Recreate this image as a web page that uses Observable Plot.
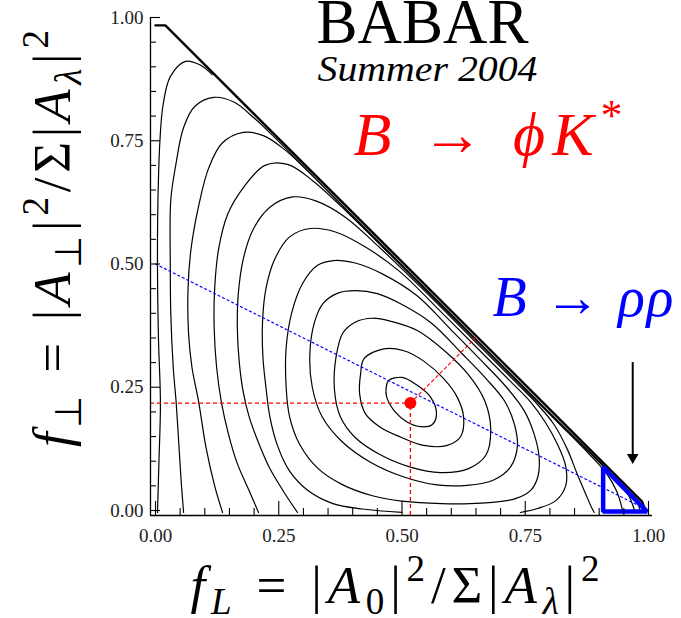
<!DOCTYPE html>
<html><head><meta charset="utf-8">
<script src="https://cdn.jsdelivr.net/npm/d3@7"></script>
<script src="https://cdn.jsdelivr.net/npm/@observablehq/plot@0.6"></script>
<style>html,body{margin:0;padding:0;background:#fff;overflow:hidden;}</style>
</head><body><div id="chart"></div>
<script>
// ---------- data ----------
const phiKstar = {fL: 0.517, fPerp: 0.218};
const xMajorTicks = [0, 0.25, 0.5, 0.75, 1];
const yMajorTicks = [0, 0.25, 0.5, 0.75, 1];
const minorTicks = [0.05,0.1,0.15,0.2,0.3,0.35,0.4,0.45,0.55,0.6,0.65,0.7,0.8,0.85,0.9,0.95];
const tickLabels = ["0.00","0.25","0.50","0.75","1.00"];

// likelihood contours (fL, fPerp), innermost first
const contour1 = [[0.473,0.264],[0.500,0.270],[0.531,0.254],[0.558,0.230],[0.570,0.196],[0.561,0.174],[0.538,0.170],[0.511,0.179],[0.487,0.199],[0.469,0.230],[0.468,0.250]];
const contour2 = [[0.423,0.308],[0.463,0.328],[0.504,0.324],[0.544,0.303],[0.585,0.267],[0.612,0.230],[0.625,0.189],[0.619,0.150],[0.592,0.132],[0.544,0.132],[0.497,0.149],[0.456,0.169],[0.426,0.196],[0.414,0.237],[0.416,0.277]];
const contour3 = [[0.380,0.360],[0.405,0.382],[0.440,0.390],[0.480,0.383],[0.531,0.365],[0.585,0.325],[0.635,0.275],[0.668,0.222],[0.680,0.165],[0.670,0.112],[0.635,0.085],[0.578,0.077],[0.517,0.088],[0.456,0.113],[0.405,0.148],[0.375,0.190],[0.363,0.245],[0.366,0.310]];
const contour4 = [[0.322,0.380],[0.340,0.420],[0.370,0.441],[0.406,0.446],[0.450,0.440],[0.500,0.418],[0.560,0.380],[0.620,0.320],[0.670,0.268],[0.708,0.222],[0.728,0.175],[0.734,0.130],[0.720,0.088],[0.686,0.062],[0.632,0.051],[0.571,0.052],[0.504,0.068],[0.436,0.098],[0.378,0.140],[0.338,0.190],[0.318,0.250],[0.313,0.315]];
const contour5 = [[0.330,0.085],[0.292,0.135],[0.272,0.190],[0.265,0.250],[0.265,0.330],[0.276,0.400],[0.298,0.460],[0.328,0.497],[0.361,0.507],[0.405,0.502],[0.460,0.480],[0.530,0.436],[0.600,0.366],[0.660,0.305],[0.712,0.250],[0.748,0.202],[0.768,0.155],[0.778,0.110],[0.776,0.070],[0.762,0.042],[0.730,0.024],[0.660,0.015],[0.580,0.014],[0.500,0.019],[0.440,0.030],[0.380,0.052]];
const contour6 = [[0.500,-0.004],[0.420,0.003],[0.360,0.014],[0.310,0.040],[0.272,0.080],[0.248,0.130],[0.232,0.190],[0.224,0.250],[0.218,0.310],[0.217,0.380],[0.224,0.450],[0.242,0.510],[0.272,0.555],[0.314,0.572],[0.365,0.565],[0.425,0.535],[0.495,0.485],[0.575,0.407],[0.655,0.327],[0.720,0.262],[0.761,0.220],[0.790,0.180],[0.815,0.135],[0.832,0.090],[0.832,0.050],[0.812,0.020],[0.775,0.004],[0.740,-0.004]];
const contour7 = [[0.288,-0.004],[0.262,0.035],[0.232,0.085],[0.208,0.140],[0.190,0.190],[0.178,0.240],[0.170,0.300],[0.166,0.370],[0.168,0.440],[0.178,0.510],[0.198,0.570],[0.232,0.615],[0.278,0.636],[0.325,0.628],[0.385,0.595],[0.455,0.533],[0.540,0.451],[0.640,0.351],[0.730,0.261],[0.775,0.215],[0.808,0.175],[0.835,0.125],[0.855,0.075],[0.872,0.035],[0.885,0.005],[0.890,-0.004]];
const contour8 = [[0.209,-0.004],[0.190,0.040],[0.166,0.095],[0.148,0.155],[0.134,0.218],[0.124,0.290],[0.119,0.370],[0.120,0.450],[0.128,0.530],[0.146,0.600],[0.179,0.656],[0.222,0.700],[0.268,0.702],[0.320,0.668],[0.390,0.604],[0.480,0.515],[0.600,0.395],[0.720,0.275],[0.820,0.175],[0.880,0.114],[0.915,0.075],[0.935,0.040],[0.945,0.010],[0.948,-0.004]];
const contour9 = [[0.136,-0.004],[0.120,0.050],[0.102,0.130],[0.088,0.218],[0.074,0.290],[0.067,0.360],[0.066,0.450],[0.072,0.530],[0.088,0.620],[0.108,0.695],[0.135,0.745],[0.178,0.767],[0.220,0.760],[0.262,0.732],[0.301,0.696],[0.400,0.597],[0.550,0.447],[0.700,0.297],[0.850,0.147],[0.930,0.067],[0.960,0.030],[0.970,0.005],[0.972,-0.004]];
const contour10 = [[0.057,-0.004],[0.052,0.060],[0.047,0.140],[0.042,0.218],[0.036,0.290],[0.031,0.400],[0.030,0.500],[0.031,0.630],[0.041,0.700],[0.057,0.777],[0.080,0.820],[0.118,0.838],[0.160,0.828],[0.200,0.796],[0.227,0.771],[0.400,0.598],[0.600,0.398],[0.800,0.198],[0.960,0.038],[0.980,0.010],[0.983,-0.004]];
const contour11 = [[0.004,-0.004],[0.007,0.100],[0.010,0.218],[0.006,0.350],[0.004,0.500],[0.005,0.630],[0.009,0.750],[0.015,0.820],[0.030,0.880],[0.061,0.911],[0.090,0.904],[0.115,0.884]];
const physicalBoundary = [[0,0.984],[0.02,0.984],[0.987,0.018],[0.995,-0.003]];

const rhoRhoRegion = [[0.908,-0.002],[0.908,0.088],[0.997,-0.002]];
const rhoRhoLine = [[0,0.5],[0.985,0.0075]];
const rhoRhoArrow = {fL: 0.968, from: 0.300, to: 0.112, tip: 0.108};

// ---------- tables ----------
const closedContours = [contour1, contour2, contour3, contour4, contour5];
const openContours = [contour6, contour7, contour8, contour9, contour10, contour11];
const toRows = list => list.flatMap((c, k) => c.map(([x, y]) => ({x, y, k})));
const closedRows = toRows(closedContours);
const openRows = toRows(openContours);
const pairRows = arr => arr.map(([x, y]) => ({x, y}));
const diag = (() => { const d = (1 - phiKstar.fL - phiKstar.fPerp) / 2;
  return [{x: phiKstar.fL, y: phiKstar.fPerp}, {x: phiKstar.fL + d, y: phiKstar.fPerp + d}]; })();

const PX = 1 / 493;          // one pixel in data units
const AX = -5 * PX;          // axis lines sit 5px outside the 0 value
const RED = "#ff0000", BLUE = "#0000ff";
const SERIF = "'Liberation Serif','Times New Roman',serif";

const yTitle = "f⊥ = |A⊥|2/Σ|Aλ|2";
const xTitle = "fL = |A0|2/Σ|Aλ|2";
const phiTitle = "B → ϕK*";
const rhoTitle = "B → ρρ";

const plot = Plot.plot({
  width: 681, height: 618,
  marginLeft: 155, marginRight: 33, marginTop: 17, marginBottom: 108,
  x: {domain: [0, 1]}, y: {domain: [0, 1]},
  style: {fontFamily: SERIF, fontSize: "19px", background: "#fff", color: "#000"},
  marks: [
    Plot.line(closedRows, {x: "x", y: "y", z: "k", curve: "catmull-rom-closed", stroke: "#000", strokeWidth: 1.2}),
    Plot.line(openRows, {x: "x", y: "y", z: "k", curve: "catmull-rom", stroke: "#000", strokeWidth: 1.2}),
    Plot.line(pairRows(physicalBoundary), {x: "x", y: "y", stroke: "#000", strokeWidth: 2.4}),
    Plot.line(pairRows(rhoRhoLine), {x: "x", y: "y", stroke: BLUE, strokeWidth: 1.2, strokeDasharray: "2,3"}),
    Plot.ruleY([phiKstar], {y: "fPerp", x1: AX, x2: "fL", stroke: RED, strokeWidth: 1.3, strokeDasharray: "4,3"}),
    Plot.ruleX([phiKstar], {x: "fL", y1: AX, y2: "fPerp", stroke: RED, strokeWidth: 1.3, strokeDasharray: "4,3"}),
    Plot.line(diag, {x: "x", y: "y", stroke: RED, strokeWidth: 1.1, strokeDasharray: "3,3"}),
    Plot.dot([phiKstar], {x: "fL", y: "fPerp", r: 6, fill: RED}),
    Plot.line(pairRows(rhoRhoRegion), {x: "x", y: "y", curve: "linear-closed", stroke: BLUE, strokeWidth: 4.5, strokeLinejoin: "miter"}),
    Plot.ruleX([rhoRhoArrow], {x: "fL", y1: "from", y2: "to", stroke: "#000", strokeWidth: 2}),
    Plot.dot([rhoRhoArrow], {x: "fL", y: "tip", symbol: "triangle", rotate: 180, r: 4.3, fill: "#000", stroke: null}),
    // axis lines and ticks
    Plot.ruleX([AX], {y1: AX, y2: 1, stroke: "#000", strokeWidth: 1.3}),
    Plot.ruleY([AX], {x1: AX, x2: 1 + 4 * PX, stroke: "#000", strokeWidth: 1.3}),
    Plot.ruleY(yMajorTicks, {y: d => d, x1: AX, x2: AX + 10 * PX, stroke: "#000", strokeWidth: 1.1}),
    Plot.ruleY(minorTicks, {y: d => d, x1: AX, x2: AX + 6 * PX, stroke: "#000", strokeWidth: 1.1}),
    Plot.ruleX(xMajorTicks, {x: d => d, y1: AX, y2: AX + 14 * PX, stroke: "#000", strokeWidth: 1.1}),
    Plot.ruleX(minorTicks, {x: d => d, y1: AX, y2: AX + 7 * PX, stroke: "#000", strokeWidth: 1.1}),
    Plot.axisX(xMajorTicks, {tickSize: 0, tickPadding: 18, tickFormat: d => tickLabels[xMajorTicks.indexOf(d)], fontSize: 19, fill: "#222", label: null}),
    Plot.axisY(yMajorTicks, {tickSize: 0, tickPadding: 12, tickFormat: d => tickLabels[yMajorTicks.indexOf(d)], fontSize: 19, fill: "#222", label: null}),
    // annotations (frame top-left is at (155,17))
    Plot.text(["BABAR"], {text: d => d, frameAnchor: "top-left", dx: 267, dy: 25, textAnchor: "middle", lineAnchor: "bottom", fontSize: 63, fill: "#000"}),
    Plot.text(["Summer 2004"], {text: d => d, frameAnchor: "top-left", dx: 272, dy: 63, textAnchor: "middle", lineAnchor: "bottom", fontSize: 36, fontStyle: "italic", fill: "#000"}),
    Plot.text([phiTitle], {text: d => d, frameAnchor: "top-left", dx: 198, dy: 137, textAnchor: "start", lineAnchor: "bottom", fontSize: 62, fill: RED}),
    Plot.text([rhoTitle], {text: d => d, frameAnchor: "top-left", dx: 337, dy: 298, textAnchor: "start", lineAnchor: "bottom", fontSize: 56, fill: BLUE}),
    Plot.text([xTitle], {text: d => d, frameAnchor: "top-left", dx: 239.5, dy: 585, textAnchor: "middle", lineAnchor: "bottom", fontSize: 53, fill: "#000"}),
    Plot.text([yTitle], {text: d => d, frameAnchor: "top-left", dx: -86, dy: 221, rotate: -90, textAnchor: "middle", lineAnchor: "bottom", fontSize: 53, fill: "#000"}),
    Plot.text(["f"], {text: d => d, frameAnchor: "top-left", dx: 1, dy: 636, textAnchor: "start", lineAnchor: "bottom", fontSize: 48, fontStyle: "italic", fill: "#000"})
  ]
});

// rich text: italics, sub- and superscripts as tspans
function rich(svg, plain, parts, fs, len) {
  d3.select(svg).selectAll("text").filter(function () { return this.textContent === plain; }).each(function () {
    const t = d3.select(this).attr("font-family", SERIF).style("font-family", SERIF);
    t.text(null);
    let cur = 0;
    for (const p of parts) {
      const target = p.s === "sub" ? 0.22 * fs : p.s === "sup" ? -0.40 * fs : 0;
      const ts = t.append("tspan").text(p.t)
        .style("font-family", SERIF)
        .style("font-style", p.i ? "italic" : "normal");
      if (p.s) ts.attr("font-size", 0.7 * fs);
      if (target !== cur) { ts.attr("dy", target - cur); cur = target; }
    }
    if (len) t.attr("textLength", len).attr("lengthAdjust", "spacing");
  });
}
function fit(svg, plain, len) {
  d3.select(svg).selectAll("text").filter(function () { return this.textContent === plain; })
    .attr("textLength", len).attr("lengthAdjust", "spacingAndGlyphs");
}
rich(plot, yTitle, [{t:"f",i:1},{t:"⊥",s:"sub"},{t:" = |"},{t:"A",i:1},{t:"⊥",s:"sub"},{t:"|"},{t:"2",s:"sup"},{t:"/Σ|"},{t:"A",i:1},{t:"λ",s:"sub",i:1},{t:"|"},{t:"2",s:"sup"}], 53, 417);
rich(plot, xTitle, [{t:"f",i:1},{t:"L",s:"sub",i:1},{t:" = |"},{t:"A",i:1},{t:"0",s:"sub"},{t:"|"},{t:"2",s:"sup"},{t:"/Σ|"},{t:"A",i:1},{t:"λ",s:"sub",i:1},{t:"|"},{t:"2",s:"sup"}], 53, 409);
rich(plot, phiTitle, [{t:"B",i:1},{t:" → "},{t:"ϕK",i:1},{t:"*",s:"sup"}], 62, 269);
rich(plot, rhoTitle, [{t:"B",i:1},{t:" → "},{t:"ρρ",i:1}], 56, 181);
fit(plot, "BABAR", 212);
fit(plot, "Summer 2004", 220);

document.getElementById("chart").append(plot);
</script>
</body></html>
